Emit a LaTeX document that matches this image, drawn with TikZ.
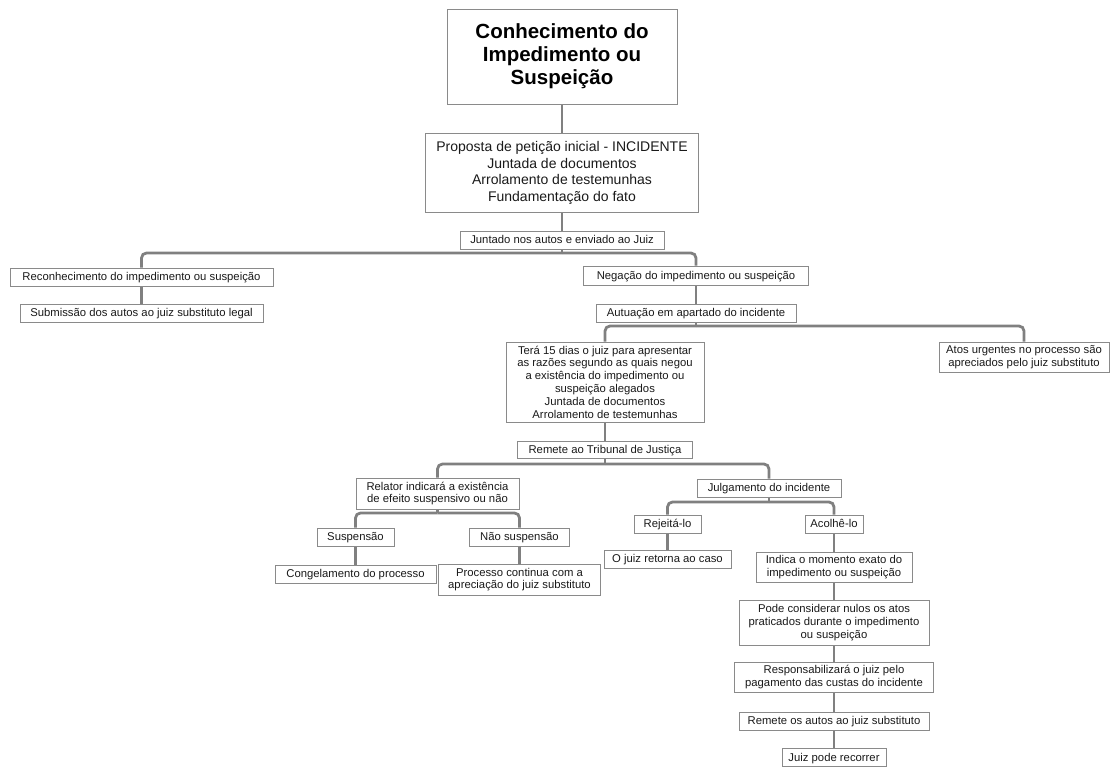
\documentclass[tikz,border=0pt]{standalone}
\usepackage{fontspec}
\setmainfont{Liberation Sans}
\usetikzlibrary{backgrounds}
\definecolor{edgegray}{HTML}{808080}
\definecolor{boxgray}{HTML}{8A8A8A}
\definecolor{inkgray}{HTML}{1A1A1A}
\begin{document}
\begin{tikzpicture}[x=1pt,y=-1pt,
  box/.style={draw=boxgray,line width=0.8pt,fill=white,inner sep=0pt,align=center,
    text=inkgray,font=\fontsize{11.3}{12.8}\selectfont},
  one/.style={box,text height=9pt,text depth=1.8pt},
  bigbox/.style={box,font=\fontsize{14}{16.5}\selectfont},
  titlebox/.style={box,text=black,font=\fontsize{20.5}{23}\selectfont\bfseries},
  conn/.style={draw=edgegray,line width=2.8pt,rounded corners=5pt}]
\useasboundingbox (0,0) rectangle (1110,767);

% title and petition
\node[titlebox,minimum width=230,minimum height=95] (title) at (562,56.5) {Conhecimento do\\Impedimento ou\\Suspeição};
\node[bigbox,minimum width=273,minimum height=79] (prop) at (562,173) {Proposta de petição inicial - INCIDENTE\\Juntada de documentos\\Arrolamento de testemunhas\\Fundamentação do fato};
\node[one,minimum width=204,minimum height=18] (junt) at (562,240) {Juntado nos autos e enviado ao Juiz};

% first split
\node[one,minimum width=263,minimum height=18] (recon) at (141.5,277) {Reconhecimento do impedimento ou suspeição};
\node[one,minimum width=243,minimum height=18] (subm) at (141.5,313) {Submissão dos autos ao juiz substituto legal};
\node[one,minimum width=225,minimum height=19] (neg) at (696,275.5) {Negação do impedimento ou suspeição};
\node[one,minimum width=200,minimum height=18] (aut) at (696,313) {Autuação em apartado do incidente};

% separate proceedings
\node[box,minimum width=198,minimum height=80] (tera) at (605,382) {Terá 15 dias o juiz para apresentar\\as razões segundo as quais negou\\a existência do impedimento ou\\suspeição alegados\\Juntada de documentos\\Arrolamento de testemunhas};
\node[box,minimum width=170,minimum height=30] (atos) at (1024,357) {Atos urgentes no processo são\\apreciados pelo juiz substituto};
\node[one,minimum width=175,minimum height=17] (remT) at (605,450) {Remete ao Tribunal de Justiça};

% court of justice
\node[box,minimum width=163,minimum height=31] (rel) at (437.5,493.5) {Relator indicará a existência\\de efeito suspensivo ou não};
\node[one,minimum width=144,minimum height=18] (julg) at (769,488) {Julgamento do incidente};
\node[one,minimum width=77,minimum height=18] (susp) at (355.5,537) {Suspensão};
\node[one,minimum width=100,minimum height=18] (nsusp) at (519.5,537) {Não suspensão};
\node[one,minimum width=161,minimum height=18] (cong) at (355.5,574) {Congelamento do processo};
\node[box,minimum width=162,minimum height=31] (proc) at (519.5,579.5) {Processo continua com a\\apreciação do juiz substituto};
\node[one,minimum width=67,minimum height=18] (rej) at (667.5,524) {Rejeitá-lo};
\node[one,minimum width=58,minimum height=18] (acol) at (834,524) {Acolhê-lo};
\node[one,minimum width=127,minimum height=18] (ojuiz) at (667.5,559) {O juiz retorna ao caso};
\node[box,minimum width=156,minimum height=30] (indica) at (834,567) {Indica o momento exato do\\impedimento ou suspeição};
\node[box,minimum width=190,minimum height=45] (pode) at (834,622.5) {Pode considerar nulos os atos\\praticados durante o impedimento\\ou suspeição};
\node[box,minimum width=199,minimum height=30] (resp) at (834,677) {Responsabilizará o juiz pelo\\pagamento das custas do incidente};
\node[one,minimum width=190,minimum height=18] (remA) at (834,721) {Remete os autos ao juiz substituto};
\node[one,minimum width=104,minimum height=18] (jpr) at (834,757.5) {Juiz pode recorrer};

% junction points of the branching connectors
\coordinate (jA) at (junt.south |- 0,253);
\coordinate (jB) at (aut.south |- 0,326);
\coordinate (jC) at (remT.south |- 0,464);
\coordinate (jD) at (rel.south |- 0,513);
\coordinate (jE) at (julg.south |- 0,502);

% connectors behind the boxes
\begin{scope}[on background layer]
  \draw[conn] (title.south) -- (prop.north);
  \draw[conn] (prop.south) -- (junt.north);
  \draw[conn] (junt.south) -- (jA);
  \draw[conn] (recon.north) |- (jA);
  \draw[conn] (neg.north) |- (jA);
  \draw[conn] (recon.south) -- (subm.north);
  \draw[conn] (neg.south) -- (aut.north);
  \draw[conn] (aut.south) -- (jB);
  \draw[conn] (tera.north) |- (jB);
  \draw[conn] (atos.north) |- (jB);
  \draw[conn] (tera.south) -- (remT.north);
  \draw[conn] (remT.south) -- (jC);
  \draw[conn] (rel.north) |- (jC);
  \draw[conn] (julg.north) |- (jC);
  \draw[conn] (rel.south) -- (jD);
  \draw[conn] (susp.north) |- (jD);
  \draw[conn] (nsusp.north) |- (jD);
  \draw[conn] (susp.south) -- (cong.north);
  \draw[conn] (nsusp.south) -- (proc.north);
  \draw[conn] (julg.south) -- (jE);
  \draw[conn] (rej.north) |- (jE);
  \draw[conn] (acol.north) |- (jE);
  \draw[conn] (rej.south) -- (ojuiz.north);
  \draw[conn] (acol.south) -- (indica.north);
  \draw[conn] (indica.south) -- (pode.north);
  \draw[conn] (pode.south) -- (resp.north);
  \draw[conn] (resp.south) -- (remA.north);
  \draw[conn] (remA.south) -- (jpr.north);
\end{scope}
\end{tikzpicture}
\end{document}
